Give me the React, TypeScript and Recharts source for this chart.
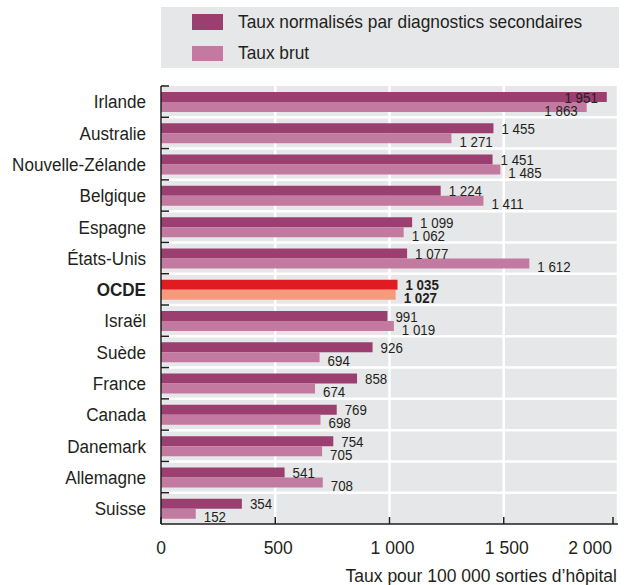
import React from "react";
import { BarChart, Bar, XAxis, YAxis, CartesianGrid, Legend, Cell, LabelList, Label } from "recharts";

const countries = [
  "Irlande", "Australie", "Nouvelle-Zélande", "Belgique", "Espagne", "États-Unis", "OCDE",
  "Israël", "Suède", "France", "Canada", "Danemark", "Allemagne", "Suisse",
];
const normalise = [1951, 1455, 1451, 1224, 1099, 1077, 1035, 991, 926, 858, 769, 754, 541, 354];
const brut = [1863, 1271, 1485, 1411, 1062, 1612, 1027, 1019, 694, 674, 698, 705, 708, 152];
const xTicks = [0, 500, 1000, 1500, 2000];
const seriesOrder = ["normalise", "brut"];

const HIGHLIGHT = "OCDE";
const DARK = "#9b3f70";
const LIGHT = "#c27aa0";
const DARK_HL = "#e11b22";
const LIGHT_HL = "#f59b7c";
const GRAY = "#e6e7e8";
const INK = "#231f20";
const FONT = "'Liberation Sans', Arial, sans-serif";

const W = 629;
const H = 585;
const MARGIN = { top: 7, right: 11, bottom: 0, left: 0 };
const LEGEND_H = 79;
const X_AXIS_H = 61;
const PLOT_H = H - MARGIN.top - LEGEND_H - X_AXIS_H;
const BAND = PLOT_H / countries.length;

const data = countries.map((pays, i) => ({ pays, normalise: normalise[i], brut: brut[i] }));

const fmt = (v: number) => String(v).replace(/\B(?=(\d{3})+(?!\d))/g, " ");

// the original uses a condensed face, so text is squeezed horizontally
function CountryTick(props: any) {
  const { x, y, payload } = props;
  const bold = payload.value === HIGHLIGHT;
  return (
    <g>
      <line x1={x} x2={x + 8} y1={y - BAND / 2} y2={y - BAND / 2} stroke={INK} strokeWidth={1.5} />
      <text
        transform={`translate(${x - 15},${y}) scale(0.9,1)`}
        dy="0.36em"
        textAnchor="end"
        fill={INK}
        fontFamily={FONT}
        fontSize={19}
        fontWeight={bold ? 700 : 400}
      >
        {payload.value}
      </text>
    </g>
  );
}

function ValueTick(props: any) {
  const { x, y, payload } = props;
  const last = payload.value === xTicks[xTicks.length - 1];
  const first = payload.value === xTicks[0];
  return (
    <g>
      <line x1={x} x2={x} y1={y - 7} y2={y} stroke={INK} strokeWidth={1.5} />
      <text
        x={last ? x - 1 : first ? x : x + 3}
        y={y + 30}
        textAnchor={last ? "end" : "middle"}
        fill={INK}
        fontFamily={FONT}
        fontSize={17.5}
      >
        {fmt(payload.value)}
      </text>
    </g>
  );
}

function makeValueLabel(shiftY: number) {
  return (props: any) => {
    const { x, y, width, height, value, index } = props;
    const bold = countries[index] === HIGHLIGHT;
    const inside = value > 1800;
    const tx = inside ? x + width - 9 : x + width + 8;
    return (
      <text
        transform={`translate(${tx},${y + height / 2 + shiftY}) scale(0.86,1)`}
        dy="0.36em"
        textAnchor={inside ? "end" : "start"}
        fill={INK}
        fontFamily={FONT}
        fontSize={15.5}
        fontWeight={bold ? 700 : 400}
      >
        {fmt(value)}
      </text>
    );
  };
}

function LegendBox(props: any) {
  const items = seriesOrder
    .map((key) => (props.payload || []).find((p: any) => p.dataKey === key))
    .filter(Boolean);
  return (
    <div style={{ height: LEGEND_H }}>
      <div style={{ position: "relative", height: 61, background: GRAY }}>
        {items.map((entry: any, i: number) => (
          <div
            key={entry.value}
            style={{ position: "absolute", left: 31, top: 7 + i * 31, height: 16, display: "flex", alignItems: "center" }}
          >
            <span style={{ display: "inline-block", width: 31, height: 16 - i, background: entry.color }} />
            <span
              style={{
                marginLeft: 15,
                fontFamily: FONT,
                fontSize: 18.5,
                color: INK,
                whiteSpace: "nowrap",
                lineHeight: "16px",
                display: "inline-block",
                transform: "scaleX(0.935)",
                transformOrigin: "left center",
              }}
            >
              {entry.value}
            </span>
          </div>
        ))}
      </div>
    </div>
  );
}

export default function App() {
  return (
    <div style={{ position: "absolute", left: 0, top: 0, width: W, height: H, background: "#fff" }}>
      <BarChart layout="vertical" width={W} height={H} data={data} margin={MARGIN} barGap={0}>
        <CartesianGrid
          fill={GRAY}
          stroke="#ffffff"
          strokeWidth={2.5}
          horizontalCoordinatesGenerator={({ offset }: any) =>
            countries.slice(1).map((_, i) => offset.top + ((i + 1) * offset.height) / countries.length)
          }
        />
        <XAxis
          type="number"
          domain={[0, 2000]}
          ticks={xTicks}
          height={X_AXIS_H}
          tickSize={0}
          tickMargin={0}
          tickLine={false}
          axisLine={{ stroke: INK, strokeWidth: 1.5 }}
          tick={<ValueTick />}
        >
          <Label
            content={({ viewBox }: any) => (
              <text
                x={viewBox.x + viewBox.width - 1}
                y={viewBox.y + 58}
                textAnchor="end"
                fill={INK}
                fontFamily={FONT}
                fontSize={17.5}
              >
                Taux pour 100 000 sorties d’hôpital
              </text>
            )}
          />
        </XAxis>
        <YAxis
          type="category"
          dataKey="pays"
          width={161}
          tickSize={0}
          tickMargin={0}
          tickLine={false}
          interval={0}
          axisLine={{ stroke: INK, strokeWidth: 1.5 }}
          tick={<CountryTick />}
        />
        <Legend
          verticalAlign="top"
          align="left"
          wrapperStyle={{ top: MARGIN.top, left: 161, width: 458 }}
          content={<LegendBox />}
        />
        <Bar
          dataKey="normalise"
          name="Taux normalisés par diagnostics secondaires"
          fill={DARK}
          barSize={10}
          isAnimationActive={false}
        >
          {data.map((d) => (
            <Cell key={d.pays} fill={d.pays === HIGHLIGHT ? DARK_HL : DARK} />
          ))}
          <LabelList dataKey="normalise" content={makeValueLabel(0)} />
        </Bar>
        <Bar dataKey="brut" name="Taux brut" fill={LIGHT} barSize={10} isAnimationActive={false}>
          {data.map((d) => (
            <Cell key={d.pays} fill={d.pays === HIGHLIGHT ? LIGHT_HL : LIGHT} />
          ))}
          <LabelList dataKey="brut" content={makeValueLabel(3)} />
        </Bar>
      </BarChart>
    </div>
  );
}
